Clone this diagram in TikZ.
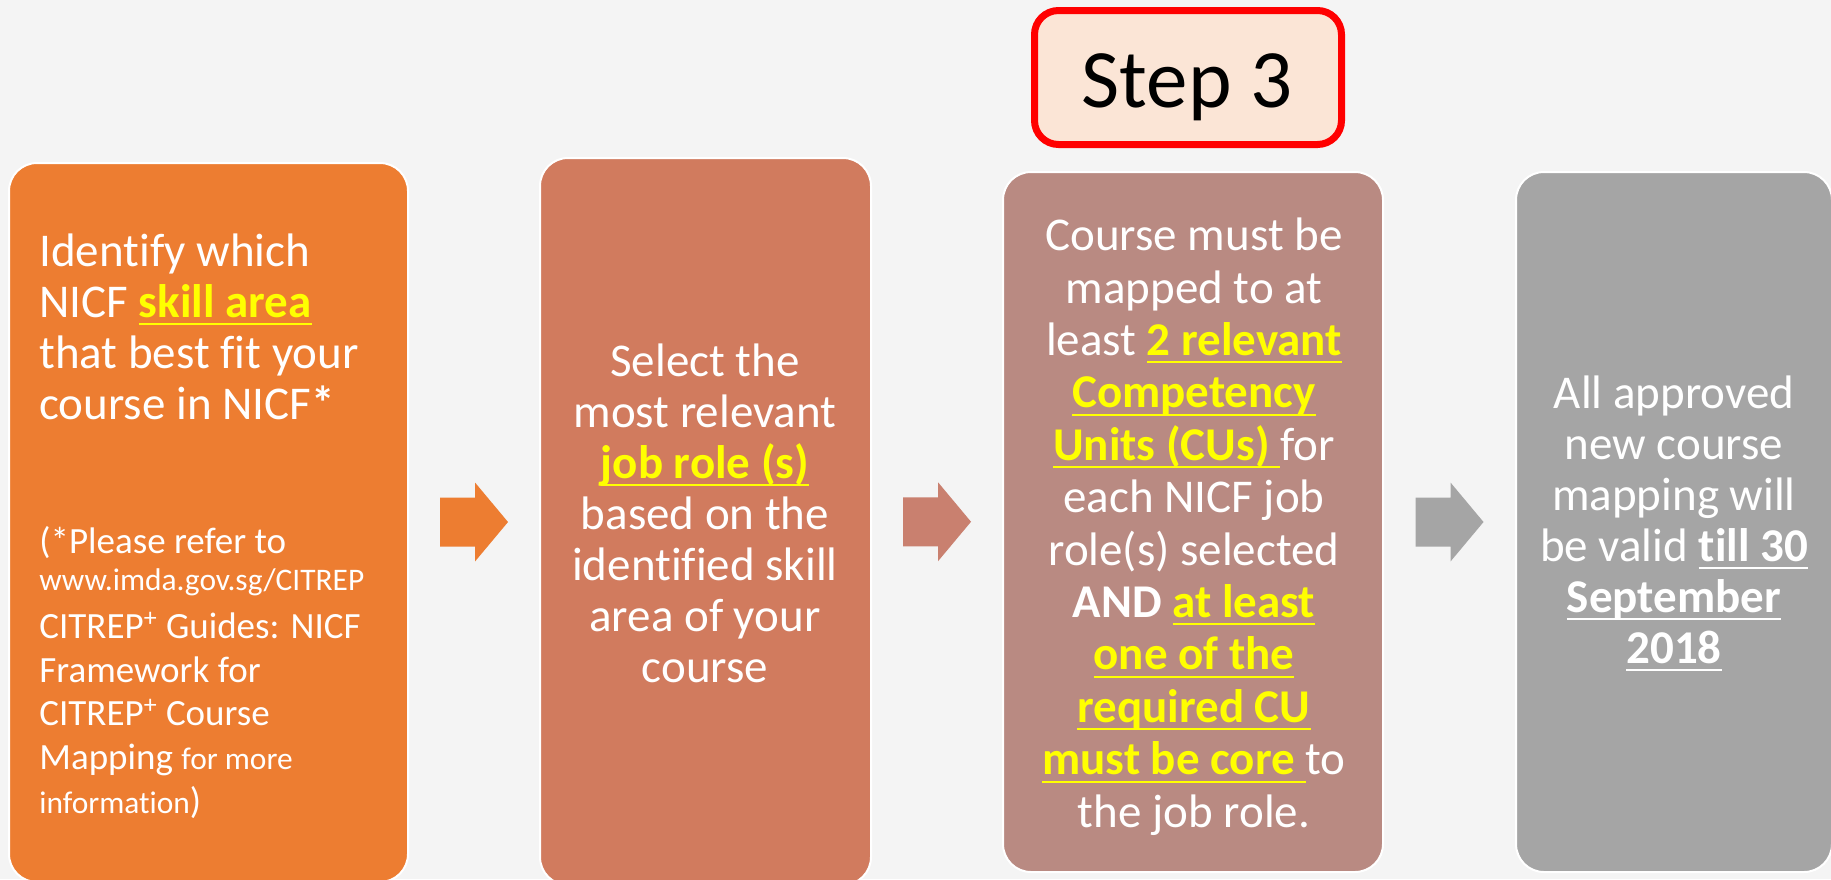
\documentclass[tikz,border=0pt]{standalone}
\usepackage{fontspec}
\setmainfont[Ligatures=NoCommon]{Carlito}
\usetikzlibrary{calc}

\definecolor{bgcol}{HTML}{F4F4F4}
\definecolor{boxone}{HTML}{ED7D31}
\definecolor{boxtwo}{HTML}{D17B5E}
\definecolor{boxthree}{HTML}{B98A82}
\definecolor{boxfour}{HTML}{A5A5A5}
\definecolor{arrtwo}{HTML}{C9806F}
\definecolor{keyyellow}{HTML}{FFFF00}
\definecolor{stepfill}{HTML}{FBE5D6}
\definecolor{stepred}{HTML}{FF0000}

\newcommand{\uln}[1]{{\setbox0\hbox{#1}\leavevmode\rlap{\rule[-0.17em]{\wd0}{1pt}}\box0}}
\newcommand{\keyterm}[1]{{\color{keyyellow}\bfseries\uln{#1}}}
\newcommand{\keywhite}[1]{{\bfseries\uln{#1}}}
\newcommand{\smalltxt}{\fontsize{15.7}{18}\selectfont}

\begin{document}
\begin{tikzpicture}[x=0.5pt, y=-0.5pt,
    stepbox/.style={draw=white, line width=1pt, rounded corners=14pt, inner sep=0pt},
    boxtext/.style={text=white, align=center, inner sep=0pt, anchor=base,
        font=\fontsize{23.5}{25.5}\selectfont}]
    \clip (0,0) rectangle (1831,879);
    \fill[bgcol] (0,0) rectangle (1831,879);

    % the four boxes
    \node[stepbox, fill=boxone, minimum width=199.5pt, minimum height=359.5pt] (b1) at (208.5,522.5) {};
    \node[stepbox, fill=boxtwo, minimum width=165.5pt, minimum height=363.5pt] (b2) at (705.5,521.5) {};
    \node[stepbox, fill=boxthree, minimum width=190pt, minimum height=350pt] (b3) at (1193,522) {};
    \node[stepbox, fill=boxfour, minimum width=158pt, minimum height=350pt] (b4) at (1674,522) {};

    % block arrows between the boxes
    \coordinate (a1) at ($(b1.east)!0.5!(b2.west)$);
    \coordinate (a2) at ($(b2.east)!0.5!(b3.west)$);
    \coordinate (a3) at ($(b3.east)!0.5!(b4.west)$);
    \foreach \a/\c in {a1/boxone, a2/arrtwo, a3/boxfour}
        \fill[\c] ($(\a)+(-34,-24.5)$) -- ++(35,0) -- ++(0,-15) -- ($(\a)+(34,0)$)
            -- ($(\a)+(1,39.5)$) -- ++(0,-15) -- ($(\a)+(-34,24.5)$) -- cycle;

    % step label
    \node[draw=stepred, line width=3.5pt, fill=stepfill, rounded corners=12pt,
        minimum width=153.5pt, minimum height=67pt] (step) at (1188,77.5) {};
    \node[anchor=base, font=\fontsize{41.5}{50}\selectfont] (steptext) at (1187,107) {Step 3};

    % texts (placed by the baseline of their last line)
    \node[boxtext, align=left, anchor=base west] (t1) at (39,419)
        {Identify which\\NICF \keyterm{skill area}\\that best fit your\\course in NICF\textbf{*}};
    \node[boxtext, align=left, anchor=base west, font=\fontsize{18.5}{21.8}\selectfont] (n1) at (39,813)
        {(*Please refer to\\[-3.5pt]
        {\smalltxt www.imda.gov.sg/CITREP}\\[2.5pt]
        CITREP\textsuperscript{+} Guides: NICF\\
        Framework for\\
        CITREP\textsuperscript{+} Course\\
        Mapping {\smalltxt for more}\\
        {\smalltxt information})};
    \node[boxtext] (t2) at (705,682)
        {Select the\\most relevant\\\keyterm{job role (s)}\\based on the\\identified skill\\area of your\\course};
    \node[boxtext, font=\fontsize{23.5}{26.2}\selectfont] (t3) at (1194,827)
        {Course must be\\mapped to at\\least \keyterm{2 relevant}\\\keyterm{Competency}\\
        \keyterm{Units (CUs)\ }for\\each NICF job\\role(s) selected\\\textbf{AND} \keyterm{at least}\\
        \keyterm{one of the}\\\keyterm{required CU}\\\keyterm{must be core\ }to\\the job role.};
    \node[boxtext] (t4) at (1674,663)
        {All approved\\new course\\mapping will\\be valid \keywhite{till 30}\\\keywhite{September}\\\keywhite{2018}};
\end{tikzpicture}
\end{document}
